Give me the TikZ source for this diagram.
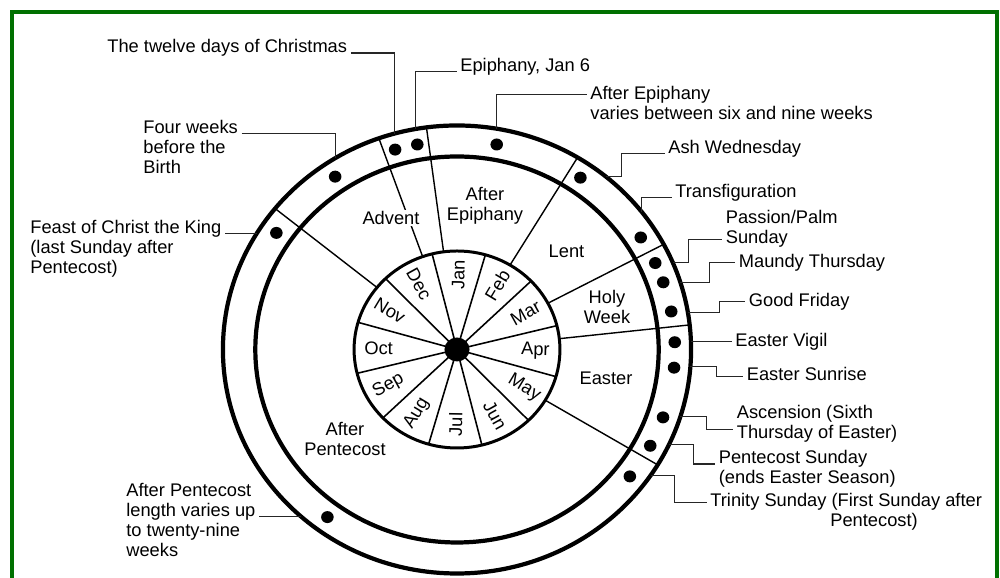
\documentclass[tikz,border=0pt]{standalone}
\usepackage{fontspec}
\setmainfont{Liberation Sans}
\usepackage{xcolor}
\usepackage{tikz}
\usetikzlibrary{calc}

\definecolor{framegreen}{RGB}{0,112,0}

\begin{document}
\begin{tikzpicture}[
    font=\fontsize{10.4}{11.4}\selectfont,
    % Styles
    ring/.style={
      draw=black,
      line width=2.4pt
    },
    monthring/.style={
      draw=black,
      line width=1.7pt
    },
    spoke/.style={
      draw=black,
      line width=0.9pt
    },
    divider/.style={
      draw=black,
      line width=0.8pt
    },
    feastdot/.style={
      fill=black
    },
    leader/.style={
      draw=black!85,
      line width=0.6pt
    },
    callout/.style={
      align=left,
      inner xsep=2pt,
      inner ysep=0pt
    },
    season/.style={
      align=center,
      inner sep=1pt
    },
    month/.style={
      inner sep=0pt
    }
  ]

    % Page and green frame
    \useasboundingbox (0,0) rectangle (20,11.56);
    \draw [framegreen, line width=2.3pt] (0.24,-0.5) rectangle (19.94,11.32);

    % The wheel (slightly wider than tall, as in the scan)
    \coordinate (ctr) at (9.14,4.57);
    \begin{scope}[shift={(ctr)}, xscale=1.045]
      \draw [ring] (0,0) circle (4.48);
      \draw [ring] (0,0) circle (3.86);
      \draw [monthring] (0,0) circle (1.97);

      % Month spokes
      \foreach \a in {104,74,...,-226}
        \draw [spoke] (0,0) -- (\a:1.97);
      \fill (0,0) circle (0.24);

      % Season dividers, through the feast ring
      \foreach \a in {141,109.5,97.5,59,28,6.3,-31}
        \draw [divider] (\a:1.97) -- (\a:4.48);

      % Feast days
      \foreach \a in {146,124,106.5,100.5,79.5,55.5,32.5,24.5,18.8,10.5,2,-5,-19,-27.5,-37.5,-126.5}
        \fill [feastdot] (\a:4.17) circle (0.12);

      % Month names
      \foreach \mon/\ang/\rot in {Jan/89/89, Feb/59/59, Mar/29/29, Apr/-1/-1,
          May/-31/-31, Jun/-61/-61, Jul/-91/89, Aug/-121/59, Sep/-151/29,
          Oct/179/-1, Nov/149/-31, Dec/119/-61}
        \node [month, rotate=\rot] (m-\mon) at (\ang:1.5) {\mon};

      % Leader ends on the outer circle
      \coordinate (pKing) at (148.7:4.48);
      \coordinate (pFour) at (121.4:4.48);
      \coordinate (pXmas) at (105.4:4.48);
      \coordinate (pEpiph) at (100.3:4.48);
      \coordinate (pAfterEp) at (80.2:4.48);
      \coordinate (pAsh) at (50.4:4.48);
      \coordinate (pTransf) at (37.9:4.48);
      \coordinate (pPalm) at (22.8:4.48);
      \coordinate (pMaundy) at (17.3:4.48);
      \coordinate (pGood) at (9.6:4.48);
      \coordinate (pVigil) at (2.0:4.48);
      \coordinate (pSunrise) at (-4.4:4.48);
      \coordinate (pAscen) at (-17.5:4.48);
      \coordinate (pPente) at (-25.2:4.48);
      \coordinate (pTrin) at (-34.1:4.48);
      \coordinate (pApl) at (-131.7:4.48);
    \end{scope}

    % Seasons
    \node (advent) [season, fill=white] at (7.82,7.20) {Advent};
    \node (epiphany) [season] at (9.70,7.45) {After\\Epiphany};
    \node (lent) [season] at (11.33,6.53) {Lent};
    \node (holyweek) [season] at (12.14,5.43) {Holy\\Week};
    \node (easter) [season] at (12.12,3.99) {Easter};
    \node (pentecost) [season] at (6.90,2.78) {After\\Pentecost};

    % Callouts, left side (base = last line)
    \node (king) [callout, anchor=base west] at (0.53,6.08) {Feast of Christ the King\\(last Sunday after\\Pentecost)};
    \node (four) [callout, anchor=base west] at (2.79,8.09) {Four weeks\\before the\\Birth};
    \node (xmas) [callout, anchor=base west] at (2.07,10.50) {The twelve days of Christmas};
    \node (apl) [callout, anchor=base west] at (2.45,0.42) {After Pentecost\\length varies up\\to twenty-nine\\weeks};

    % Callouts, top and right side
    \node (epiph) [callout, anchor=base west] at (9.13,10.13) {Epiphany, Jan 6};
    \node (afterep) [callout, anchor=base west] at (11.73,9.17) {After Epiphany\\varies between six and nine weeks};
    \node (ash) [callout, anchor=base west] at (13.29,8.49) {Ash Wednesday};
    \node (transf) [callout, anchor=base west] at (13.43,7.61) {Transfiguration};
    \node (palm) [callout, anchor=base west] at (14.44,6.68) {Passion/Palm\\Sunday};
    \node (maundy) [callout, anchor=base west] at (14.70,6.21) {Maundy Thursday};
    \node (goodfri) [callout, anchor=base west] at (14.90,5.43) {Good Friday};
    \node (vigil) [callout, anchor=base west] at (14.63,4.63) {Easter Vigil};
    \node (sunrise) [callout, anchor=base west] at (14.86,3.94) {Easter Sunrise};
    \node (ascen) [callout, anchor=base west] at (14.66,2.78) {Ascension (Sixth\\Thursday of Easter)};
    \node (pente) [callout, anchor=base west] at (14.30,1.88) {Pentecost Sunday\\(ends Easter Season)};
    \node (trin) [callout, anchor=base west] at (14.13,1.02) {Trinity Sunday (First Sunday after\\\hspace*{2.4cm}Pentecost)};

    % Leaders
    \draw [leader] (pKing) -- (pKing -| king.east);
    \draw [leader] ([yshift=0.8cm]four.base east) -| (pFour);
    \draw [leader] (xmas.base east) -| (pXmas);
    \draw [leader] (pApl) -- (pApl -| apl.east);
    \draw [leader] (epiph.base west) -| (pEpiph);
    \draw [leader] ([yshift=0.4cm]afterep.mid west) -| (pAfterEp);
    \draw [leader] (pAsh) -- ++(0.3,0) |- (ash.base west);
    \draw [leader] (pTransf) |- (transf.base west);
    \draw [leader] (pPalm) -- ++(0.31,0) |- (palm.mid west);
    \draw [leader] (pMaundy) -- ++(0.58,0) |- (maundy.mid west);
    \draw [leader] (pGood) -- ++(0.63,0) |- (goodfri.mid west);
    \draw [leader] (pVigil) -- (pVigil -| vigil.west);
    \draw [leader] (pSunrise) -- ++(0.53,0) |- (sunrise.mid west);
    \draw [leader] (pAscen) -- ++(0.53,0) |- ([yshift=0.1cm]ascen.mid west);
    \draw [leader] (pPente) -- ++(0.49,0) |- ([yshift=0.4cm]pente.base west);
    \draw [leader] (pTrin) -- ++(0.48,0) |- ([yshift=0.4cm]trin.mid west);

  \end{tikzpicture}
\end{document}
